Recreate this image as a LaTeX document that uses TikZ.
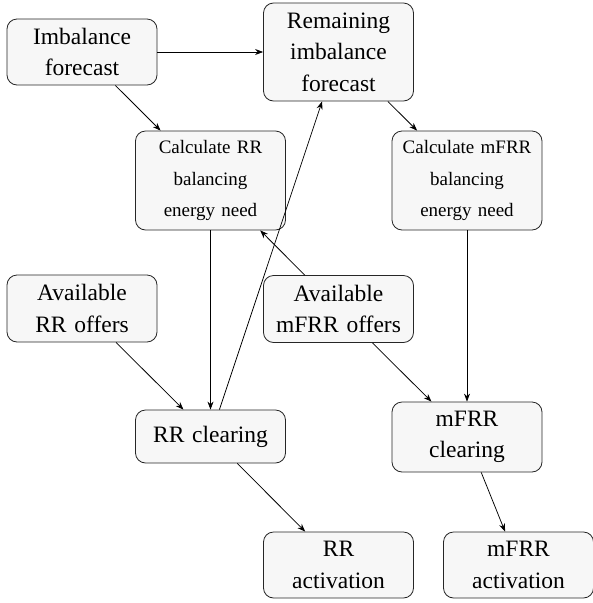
\documentclass[tikz,border=0pt]{standalone}
\usepackage{fontspec}
\setmainfont{Liberation Serif}
\newfontfamily\boxfont{Liberation Serif}
\usetikzlibrary{arrows.meta}
\newcommand{\widesp}{\spaceskip=0.33em\relax}
\tikzset{
  box/.style={draw=black!85, line width=0.8pt, fill=gray!6, rounded corners=10pt,
    minimum width=150pt, inner sep=3pt, align=center,
    font=\boxfont\fontsize{23.5}{31.5}\selectfont, execute at begin node=\widesp},
  smallbox/.style={box, font=\boxfont\fontsize{19}{31.7}\selectfont},
  conn/.style={line width=0.75pt, -{Stealth[length=8pt,width=6pt]}}
}
\begin{document}
\begin{tikzpicture}[x=1pt,y=-1pt]
\useasboundingbox (0,0) rectangle (593,603);
\node[box, minimum height=66pt] (imb) at (82,52) {Imbalance\\forecast};
\node[box, minimum height=98pt] (rem) at (338.5,52) {Remaining\\imbalance\\forecast};
\node[smallbox, minimum height=99pt] (crr) at (210.5,180.5) {Calculate RR\\balancing\\energy need};
\node[smallbox, minimum height=99pt] (cmf) at (467,180.5) {Calculate mFRR\\balancing\\energy need};
\node[box, minimum height=67pt] (arr) at (82,308.5) {Available\\RR offers};
\node[box, minimum height=67pt] (amf) at (338.5,309) {Available\\mFRR offers};
\node[box, minimum height=53pt] (rrc) at (210.5,436.5) {RR clearing};
\node[box, minimum height=70pt] (mfc) at (467,437) {mFRR\\clearing};
\node[box, minimum height=66pt] (rra) at (338.5,565) {RR\\activation};
\node[box, minimum height=66pt] (mfa) at (518.5,565) {mFRR\\activation};

\draw[conn] (imb) -- (rem);
\draw[conn] (imb) -- (crr);
\draw[conn] (rem) -- (cmf);
\draw[conn] (crr) -- (rrc);
\draw[conn] (rrc) -- (rem);
\draw[conn] (amf) -- (crr);
\draw[conn] (arr) -- (rrc);
\draw[conn] (amf) -- (mfc);
\draw[conn] (cmf) -- (mfc);
\draw[conn] (rrc) -- (rra);
\draw[conn] (mfc) -- (mfa);
\end{tikzpicture}
\end{document}
